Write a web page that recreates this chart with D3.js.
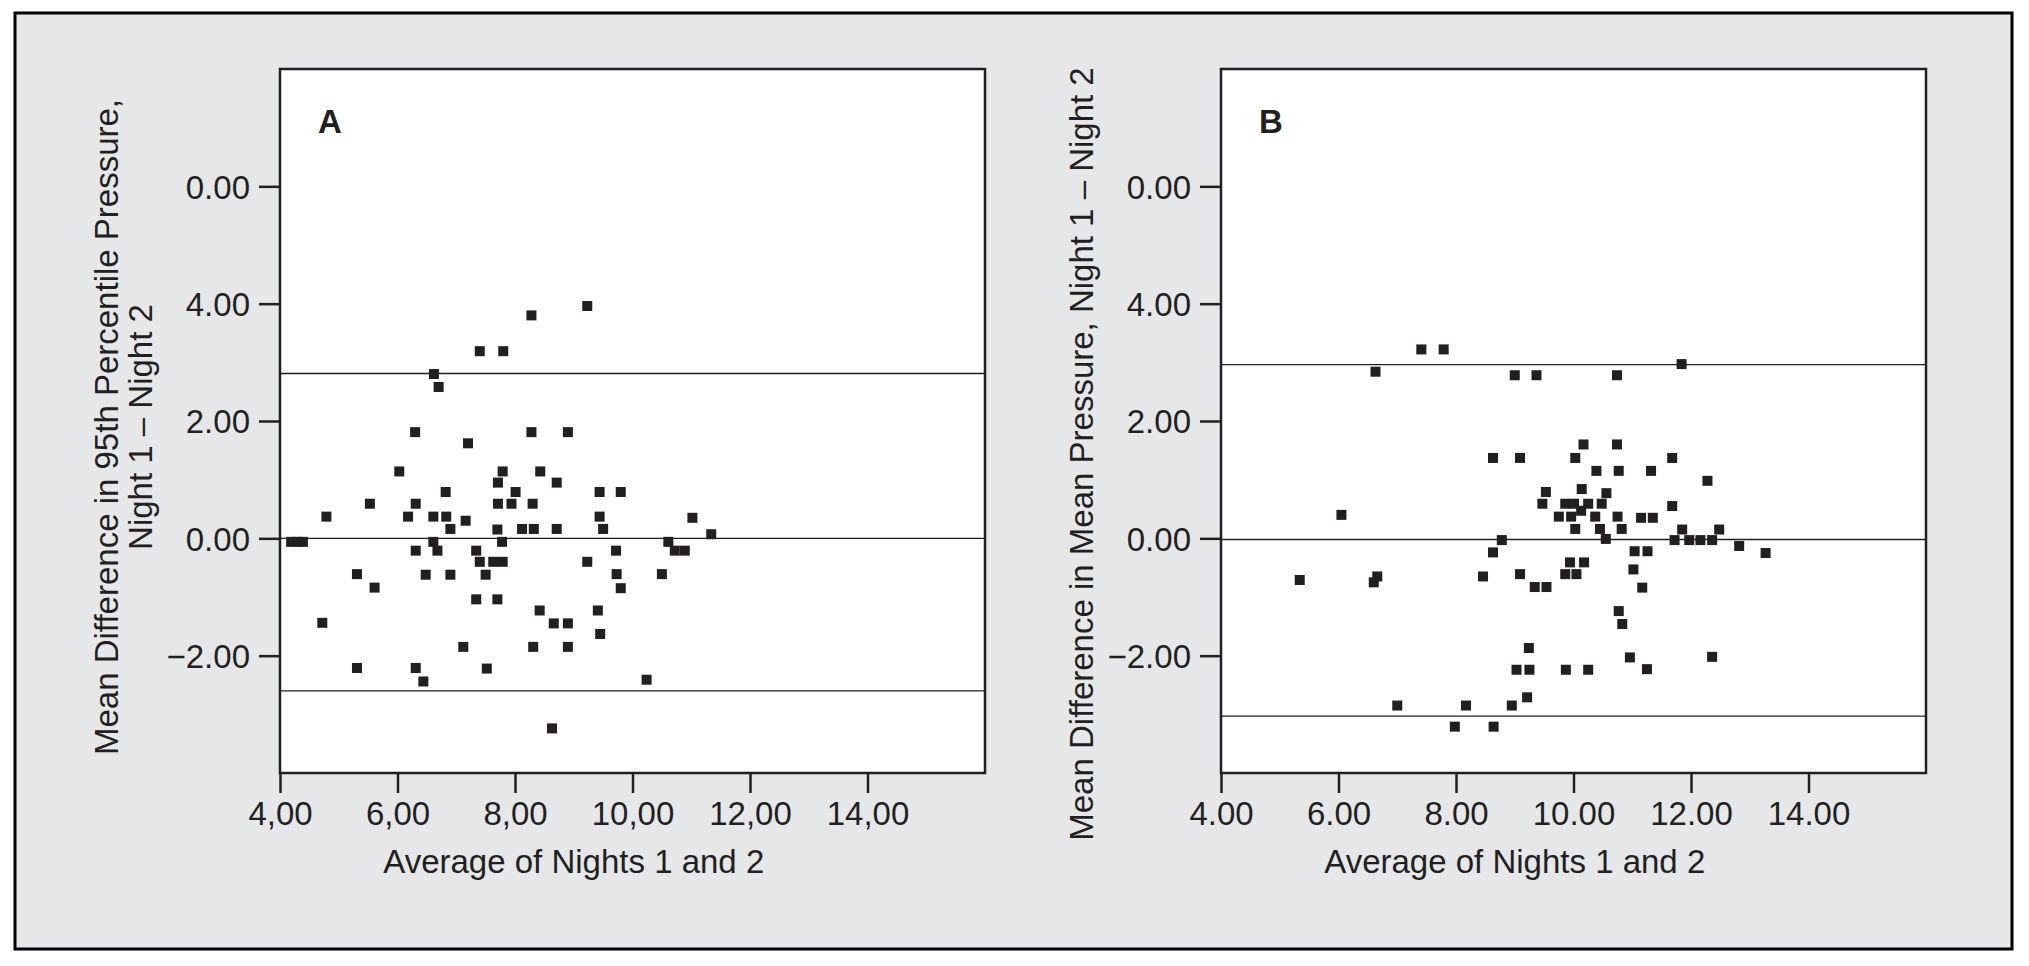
<!DOCTYPE html>
<html>
<head>
<meta charset="utf-8">
<script src="https://cdn.jsdelivr.net/npm/d3@7"></script>
<style>
  body { margin: 0; background: #fff; }
  svg { display: block; }
  text { font-family: "Liberation Sans", Arial, Helvetica, sans-serif; fill: #231f20; }
</style>
</head>
<body>
<script>
var width = 2029, height = 966;

// panel A: average of nights (x) vs difference in 95th percentile pressure (y)
var aX = [4.19, 4.30, 4.39, 4.79, 4.72, 5.31, 5.31, 5.53, 5.61, 6.03, 6.18, 6.30, 6.31, 6.31, 6.31, 6.44,
  6.48, 6.62, 6.70, 6.61, 6.61, 6.68, 6.82, 6.83, 6.90, 6.90, 7.16, 7.20, 7.12, 7.34, 7.40, 7.34,
  7.40, 7.50, 7.52, 7.63, 7.70, 7.70, 7.71, 7.71, 7.79, 7.80, 7.78, 7.79, 7.94, 8.01, 8.12, 8.28,
  8.28, 8.30, 8.32, 8.31, 8.42, 8.43, 8.63, 8.66, 8.71, 8.71, 8.90, 8.90, 8.90, 9.23, 9.23, 9.41,
  9.44, 9.44, 9.45, 9.50, 9.72, 9.73, 9.80, 9.80, 10.24, 10.50, 10.61, 10.72, 10.89, 11.02, 11.34];
var aY = [-0.06, -0.06, -0.06, 0.37, -1.44, -0.61, -2.21, 0.59, -0.84, 1.14, 0.37, 1.81, 0.59, -0.21, -2.21, -2.44,
  -0.62, 2.80, 2.58, 0.37, -0.06, -0.21, 0.79, 0.37, 0.16, -0.62, 0.30, 1.62, -1.85, -0.21, -0.40, -1.04,
  3.19, -0.62, -2.22, -0.40, 0.15, -1.04, 0.95, 0.59, 1.14, 3.19, -0.06, -0.40, 0.59, 0.79, 0.16, 3.80,
  1.81, 0.59, 0.16, -1.85, -1.23, 1.14, -3.24, -1.45, 0.95, 0.16, 1.81, -1.45, -1.85, 3.96, -0.40, -1.23,
  0.79, 0.37, -1.63, 0.16, -0.21, -0.61, 0.79, -0.85, -2.41, -0.61, -0.06, -0.21, -0.21, 0.35, 0.07];
var aLines = [2.81, 0, -2.60];

// panel B: average of nights (x) vs difference in mean pressure (y)
var bX = [5.34, 6.05, 6.63, 6.60, 6.66, 7.00, 7.41, 7.79, 7.98, 8.17, 8.63, 8.63, 8.64, 8.78, 8.46, 8.95,
  9.00, 9.03, 9.09, 9.09, 9.21, 9.24, 9.25, 9.34, 9.37, 9.47, 9.53, 9.54, 9.75, 9.86, 9.86, 9.87,
  9.94, 9.96, 10.01, 10.03, 10.03, 10.05, 10.13, 10.14, 10.17, 10.18, 10.25, 10.25, 10.37, 10.39, 10.45, 10.48,
  10.55, 10.56, 10.74, 10.74, 10.77, 10.75, 10.77, 10.82, 10.83, 10.96, 11.02, 11.04, 11.15, 11.17, 11.25, 11.26,
  11.32, 11.35, 11.68, 11.68, 11.72, 11.84, 11.85, 11.97, 12.16, 12.28, 12.36, 12.36, 12.48, 12.82, 13.27];
var bY = [-0.71, 0.40, 2.84, -0.75, -0.65, -2.85, 3.22, 3.22, -3.21, -2.85, 1.37, -0.24, -3.21, -0.03, -0.65, -2.85,
  2.78, -2.24, 1.37, -0.61, -2.71, -1.87, -2.24, -0.83, 2.78, 0.59, 0.79, -0.83, 0.37, 0.59, -0.61, -2.24,
  -0.41, 0.37, 0.59, 1.37, 0.16, -0.61, 0.47, 0.84, 1.60, -0.41, 0.59, -2.24, 0.37, 1.15, 0.16, 0.59,
  -0.01, 0.77, 1.60, 2.78, 1.15, 0.37, -1.24, 0.16, -1.46, -2.03, -0.53, -0.22, 0.35, -0.84, -2.23, -0.22,
  1.15, 0.35, 1.37, 0.55, -0.03, 2.97, 0.15, -0.03, -0.03, 0.98, -0.03, -2.02, 0.15, -0.13, -0.25];
var bLines = [2.96, -0.02, -3.03];

// ticks (the top y tick really is printed as 0.00 in the source)
var xTicks = [4, 6, 8, 10, 12, 14];
var xLabelsA = ["4,00", "6,00", "8,00", "10,00", "12,00", "14,00"];
var xLabelsB = ["4.00", "6.00", "8.00", "10.00", "12.00", "14.00"];
var yTicks = [6, 4, 2, 0, -2];
var yLabels = ["0.00", "4.00", "2.00", "0.00", "\u22122.00"];

var svg = d3.select("body").append("svg")
    .attr("width", width)
    .attr("height", height);

// grey frame round both panels
svg.append("rect")
    .attr("x", 15).attr("y", 13)
    .attr("width", 1997).attr("height", 936)
    .attr("fill", "#e6e7e9")
    .attr("stroke", "#000")
    .attr("stroke-width", 3);

function drawPanel(opt) {
  var pw = 705, ph = 704;
  var g = svg.append("g").attr("transform", "translate(" + opt.left + "," + opt.top + ")");

  var x = d3.scaleLinear().domain([4, 16]).range([0, pw]);
  var y = d3.scaleLinear().domain([-4, 8]).range([ph, 0]);

  g.append("rect")
      .attr("width", pw).attr("height", ph)
      .attr("fill", "#fff");

  // limits of agreement + mean
  g.selectAll(".ref").data(opt.lines).enter().append("line")
      .attr("class", "ref")
      .attr("x1", 0).attr("x2", pw)
      .attr("y1", function(d) { return y(d); })
      .attr("y2", function(d) { return y(d); })
      .attr("stroke", "#231f20")
      .attr("stroke-width", 1.3);

  var pts = opt.xs.map(function(v, i) { return {x: v, y: opt.ys[i]}; });
  g.selectAll(".pt").data(pts).enter().append("rect")
      .attr("class", "pt")
      .attr("x", function(d) { return x(d.x) - 5; })
      .attr("y", function(d) { return y(d.y) - 5; })
      .attr("width", 10).attr("height", 10)
      .attr("fill", "#231f20");

  g.append("rect")
      .attr("width", pw).attr("height", ph)
      .attr("fill", "none")
      .attr("stroke", "#231f20")
      .attr("stroke-width", 2.5);

  var xAxis = g.append("g")
      .attr("transform", "translate(0," + ph + ")")
      .call(d3.axisBottom(x).tickValues(xTicks)
        .tickFormat(function(d, i) { return opt.xLabels[i]; })
        .tickSize(20).tickPadding(9));
  var yAxis = g.append("g")
      .call(d3.axisLeft(y).tickValues(yTicks)
        .tickFormat(function(d, i) { return yLabels[i]; })
        .tickSize(21).tickPadding(9));

  [xAxis, yAxis].forEach(function(a) {
    a.select(".domain").remove();
    a.selectAll(".tick line").attr("stroke", "#231f20").attr("stroke-width", 2.5);
    a.selectAll(".tick text")
        .style("font-size", "33px")
        .style("font-family", "'Liberation Sans', Arial, sans-serif")
        .attr("fill", "#231f20");
  });
  yAxis.selectAll(".tick text").attr("dy", "0.36em");

  g.append("text")
      .attr("x", 38).attr("y", 64)
      .style("font-size", "33px")
      .style("font-weight", "bold")
      .text(opt.letter);

  g.append("text")
      .attr("x", (x(4) + x(14)) / 2)
      .attr("y", 804)
      .attr("text-anchor", "middle")
      .style("font-size", "33px")
      .text("Average of Nights 1 and 2");

  opt.yTitle.forEach(function(t) {
    svg.append("text")
        .attr("transform", "translate(" + t.bx + "," + t.cy + ") rotate(-90)")
        .attr("text-anchor", "middle")
        .style("font-size", "33px")
        .text(t.text);
  });
}

drawPanel({
  left: 280, top: 69, letter: "A",
  xs: aX, ys: aY, lines: aLines, xLabels: xLabelsA,
  yTitle: [
    {text: "Mean Difference in 95th Percentile Pressure,", bx: 118, cy: 427},
    {text: "Night 1 \u2013 Night 2", bx: 152, cy: 427}
  ]
});

drawPanel({
  left: 1221, top: 69, letter: "B",
  xs: bX, ys: bY, lines: bLines, xLabels: xLabelsB,
  yTitle: [
    {text: "Mean Difference in Mean Pressure, Night 1 \u2013 Night 2", bx: 1093, cy: 454}
  ]
});
</script>
</body>
</html>
